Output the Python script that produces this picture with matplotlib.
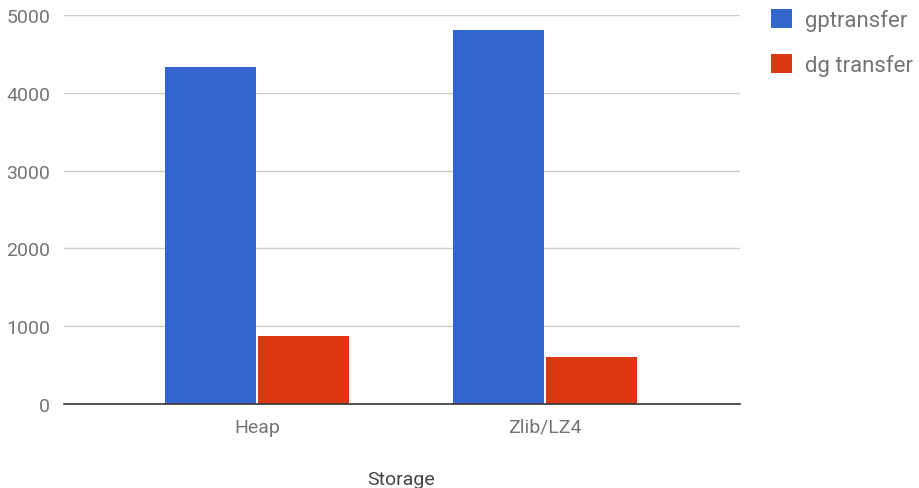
import matplotlib.pyplot as plt
import numpy as np

# data
categories = ["Heap", "Zlib/LZ4"]
gptransfer = [4330, 4810]
dg_transfer = [878, 608]
y_ticks = [0, 1000, 2000, 3000, 4000, 5000]

plt.rcParams['font.family'] = ['Roboto', 'DejaVu Sans']
text_gray = '#757575'

fig = plt.figure(figsize=(9.19, 4.89), dpi=100)
ax = fig.add_axes([64 / 919, 1 - 405 / 489, 676 / 919, (405 - 16) / 489])

x = np.arange(len(categories))
w = 0.318
ax.bar(x - w / 2 - 0.003, gptransfer, width=w, color='#3366CC', label='gptransfer', zorder=3)
ax.bar(x + w / 2 + 0.003, dg_transfer, width=w, color='#DC3912', label='dg transfer', zorder=3)

ax.set_xlim(-0.67, 1.677)
ax.set_ylim(0, 5000)
ax.set_yticks(y_ticks)
ax.set_xticks(x)
ax.set_xticklabels(categories)
ax.tick_params(axis='both', length=0, labelsize=14, labelcolor=text_gray)
ax.tick_params(axis='y', pad=10)
ax.tick_params(axis='x', pad=10)
ax.grid(axis='y', color='#cccccc', linewidth=1, zorder=0)
for s in ['top', 'right', 'left']:
    ax.spines[s].set_visible(False)
ax.spines['bottom'].set_color('#333333')
ax.spines['bottom'].set_linewidth(1.2)
ax.spines['bottom'].set_zorder(4)

ax.set_xlabel('Storage', fontsize=14, color='#444444', va='center')
ax.xaxis.set_label_coords((401 - 64) / 676, (405 - 480) / 389)

ax.legend(loc='upper left', bbox_to_anchor=(751 / 919, 1.02), bbox_transform=fig.transFigure,
          frameon=False, fontsize=16, labelcolor=text_gray,
          handlelength=0.95, handleheight=0.95, handletextpad=0.6, labelspacing=1.0)

fig.savefig('out.png')
